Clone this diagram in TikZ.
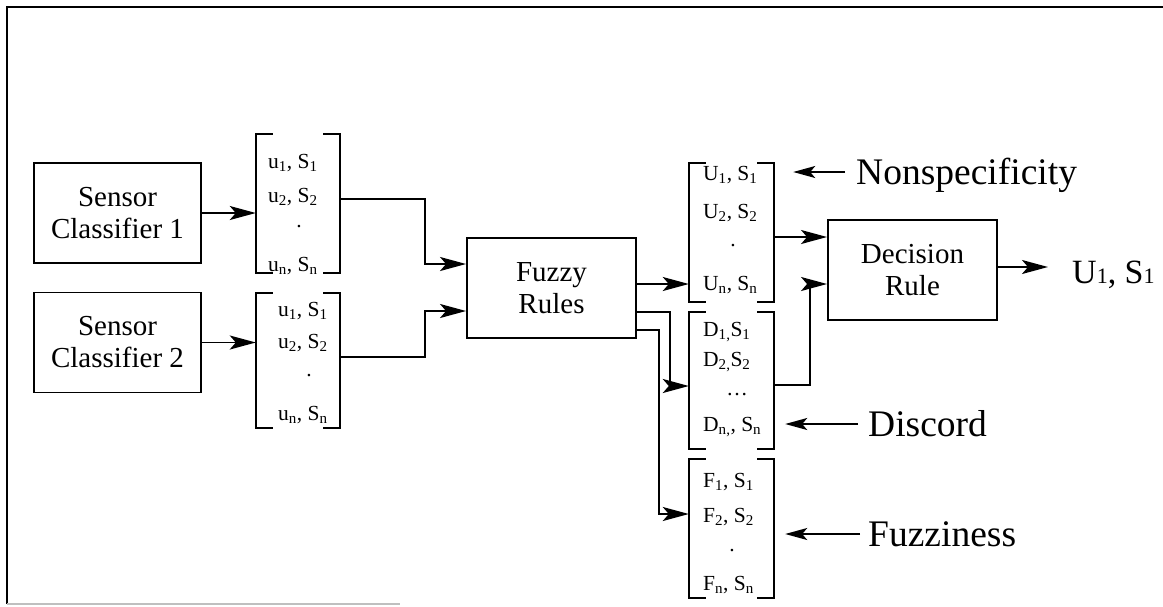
\documentclass[tikz,border=0pt]{standalone}
\usepackage{fontspec}
\setmainfont{Liberation Serif}
\usetikzlibrary{arrows.meta}
\begin{document}
\begin{tikzpicture}[x=1pt,y=-1pt,
  lw/.style={line width=1.9pt},
  blk/.style={draw, line width=1.9pt, align=center, inner sep=0pt, minimum width=167pt, minimum height=100pt, font=\fontsize{29}{32}\selectfont},
  mat/.style={inner sep=0pt, minimum width=84pt},
  ent/.style={anchor=west, inner sep=0pt, font=\fontsize{21.5}{21.5}\selectfont},
  dotn/.style={inner sep=0pt, font=\fontsize{21.5}{21.5}\selectfont},
  arr/.style={line width=1.9pt, -{Stealth[length=26pt,width=14pt,inset=6pt]}},
  larr/.style={line width=1.7pt, -{Stealth[length=22pt,width=12pt,inset=5pt]}},
  lbl/.style={anchor=west, inner xsep=11pt, inner ysep=0pt, text height=25pt, text depth=0pt, font=\fontsize{37.5}{37.5}\selectfont},
]
\useasboundingbox (0,0) rectangle (1163,606);
% frame
\draw[line width=2.2pt] (7,604) -- (7,7) -- (1163,7);
\draw[gray!50, line width=1.2pt] (7,604) -- (400,604);

% blocks
\node[blk] (sc1) at (117.5,213) {Sensor\\Classifier 1};
\node[blk] (sc2) at (117.5,342.5) {Sensor\\Classifier 2};
\node[blk, minimum width=169pt] (fuzzy) at (551.5,288) {Fuzzy\\Rules};
\node[blk, minimum width=169pt] (dec) at (912.5,270) {Decision\\Rule};

% bracket areas
\node[mat, minimum height=139pt] (m1) at (298,203.5) {};
\node[mat, minimum height=135pt] (m2) at (298,360.5) {};
\node[mat, minimum width=85pt, minimum height=139pt] (mu) at (731.5,232.5) {};
\node[mat, minimum width=85pt, minimum height=137pt] (md) at (731.5,380.5) {};
\node[mat, minimum width=85pt, minimum height=139pt] (mf) at (731.5,528.5) {};
\foreach \m in {m1,m2,mu,md,mf}{
  \draw[lw] ([xshift=17pt]\m.north west) -| (\m.south west) -- ([xshift=17pt]\m.south west);
  \draw[lw] ([xshift=-17pt]\m.north east) -| (\m.south east) -- ([xshift=-17pt]\m.south east);
}

% entries
\node[ent] (a1) at (268,163) {u\textsubscript{1}, S\textsubscript{1}};
\node[ent] (a2) at (268,197) {u\textsubscript{2}, S\textsubscript{2}};
\node[dotn] (a3) at (299,227) {.};
\node[ent] (a4) at (268,266) {u\textsubscript{n}, S\textsubscript{n}};

\node[ent] (b1) at (278,311) {u\textsubscript{1}, S\textsubscript{1}};
\node[ent] (b2) at (278,343) {u\textsubscript{2}, S\textsubscript{2}};
\node[dotn] (b3) at (309,376) {.};
\node[ent] (b4) at (278,415) {u\textsubscript{n}, S\textsubscript{n}};

\node[ent] (c1) at (703,175) {U\textsubscript{1}, S\textsubscript{1}};
\node[ent] (c2) at (703,213) {U\textsubscript{2}, S\textsubscript{2}};
\node[dotn] (c3) at (733,246) {.};
\node[ent] (c4) at (703,285) {U\textsubscript{n}, S\textsubscript{n}};

\node[ent] (d1) at (703,332) {D\textsubscript{1,}S\textsubscript{1}};
\node[ent] (d2) at (703,362) {D\textsubscript{2,}S\textsubscript{2}};
\node[dotn] (d3) at (737,395) {\dots};
\node[ent] (d4) at (703,427) {D\textsubscript{n,}, S\textsubscript{n}};

\node[ent] (e1) at (703,482) {F\textsubscript{1}, S\textsubscript{1}};
\node[ent] (e2) at (703,517) {F\textsubscript{2}, S\textsubscript{2}};
\node[dotn] (e3) at (732,551) {.};
\node[ent] (e4) at (703,585) {F\textsubscript{n}, S\textsubscript{n}};

% labels
\node[lbl] (nonsp) at (845,172) {Nonspecificity};
\node[lbl, inner xsep=10pt] (disc) at (858,424) {Discord};
\node[lbl, inner xsep=8pt] (fuzz) at (860,534) {Fuzziness};
\node[anchor=base west, inner xsep=24pt, inner ysep=0pt, font=\fontsize{34}{34}\selectfont] (out) at (1048,283)
  {U{\fontsize{22}{22}\selectfont 1}, S{\fontsize{22}{22}\selectfont 1}};

% connectors
\draw[arr] (sc1.east) -- (sc1.east -| m1.west);
\draw[arr] (sc2.east) -- (sc2.east -| m2.west);
\draw[arr] ([yshift=4.5pt]m1.east) -- ++(85,0) |- ([yshift=24pt]fuzzy.west);
\draw[arr] ([yshift=3.5pt]m2.east) -- ++(85,0) |- ([yshift=-23pt]fuzzy.west);
\draw[arr] ([yshift=4pt]fuzzy.east) -- ([yshift=4pt]fuzzy.east -| mu.west);
\draw[arr] ([yshift=-24pt]fuzzy.east) -- ++(33,0) |- ([yshift=-5.5pt]md.west);
\draw[arr] ([yshift=-42pt]fuzzy.east) -- ++(22,0) |- ([yshift=14.5pt]mf.west);
\draw[arr] ([yshift=-4.5pt]mu.east) -- ([yshift=-4.5pt]mu.east -| dec.west);
\draw[arr] ([yshift=-4.5pt]md.east) -- ++(36,0) |- ([yshift=-14pt]dec.west);
\draw[arr] ([yshift=3pt]dec.east) -- ([yshift=3pt]dec.east -| out.west);

\draw[larr] (nonsp.west) -- ([xshift=19pt]mu.east |- nonsp.west);
\draw[larr] (disc.west) -- ([xshift=11pt]md.east |- disc.west);
\draw[larr] (fuzz.west) -- ([xshift=11pt]mf.east |- fuzz.west);
\end{tikzpicture}
\end{document}
